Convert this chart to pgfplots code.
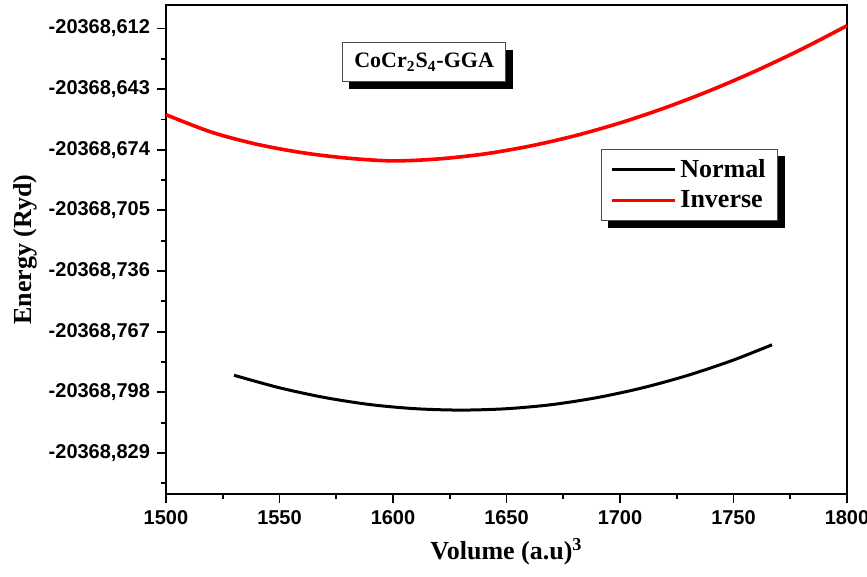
\documentclass[border=0pt]{standalone}
\usepackage{fontspec}
\setmainfont{Liberation Serif}
\setsansfont{Liberation Sans}
\usepackage{pgfplots}
\pgfplotsset{compat=1.18}
\usetikzlibrary{shadows}
\pgfdeclarelayer{background}
\pgfsetlayers{background,main}

% energies stored as E + 20368 (Ryd), labels carry the full value
\begin{document}
\begin{tikzpicture}
\begin{axis}[
    name=ax,
    scale only axis,
    width=340.5pt,
    height=244.5pt,
    xmin=1500, xmax=1800,
    ymin=-0.850, ymax=-0.600,
    axis line style={line width=0.9pt},
    tick style={line width=0.9pt, black},
    tick align=outside,
    xtick pos=bottom,
    ytick pos=left,
    major tick length=4.5pt,
    minor tick length=2.5pt,
    xtick={1500,1550,1600,1650,1700,1750,1800},
    xticklabels={1500,1550,1600,1650,1700,1750,1800},
    minor xtick={1525,1575,1625,1675,1725,1775},
    ytick={-0.829,-0.798,-0.767,-0.736,-0.705,-0.674,-0.643,-0.612},
    yticklabels={{-20368,829},{-20368,798},{-20368,767},{-20368,736},
                 {-20368,705},{-20368,674},{-20368,643},{-20368,612}},
    minor ytick={-0.8445,-0.8135,-0.7825,-0.7515,-0.7205,-0.6895,-0.6585,-0.6275},
    /pgf/number format/assume math mode=true,
    ticklabel style={font=\sffamily\bfseries\fontsize{10}{12}\selectfont},
    xlabel={\textbf{Volume (a.u)}\textsuperscript{\textbf{3}}},
    ylabel={\textbf{Energy (Ryd)}},
    label style={font=\fontsize{13}{15}\selectfont},
    xlabel style={at={(axis description cs:0.5,0)}, anchor=center, yshift=-29pt},
    ylabel style={at={(axis description cs:0,0.5)}, anchor=center, yshift=70.5pt},
    legend style={name=leg, at={(rel axis cs:0.769,0.632)}, anchor=center,
        draw=black!70, fill=white, line width=0.6pt,
        font=\bfseries\fontsize{13}{15}\selectfont,
        inner xsep=4pt, inner ysep=3pt, row sep=1pt},
    legend cell align=left,
    legend image code/.code={\draw[#1] (0pt,0pt) -- (31.5pt,0pt);},
]
\addplot[black, line width=1.5pt, smooth] coordinates {
    (1530,-0.7893) (1550,-0.7957) (1570,-0.8007) (1590,-0.8043)
    (1610,-0.8064) (1630,-0.8071) (1650,-0.8064) (1670,-0.8043)
    (1690,-0.8007) (1710,-0.7957) (1730,-0.7893) (1750,-0.7815)
    (1767,-0.7737)
};
\addlegendentry{Normal}
\addplot[red, line width=1.8pt, smooth] coordinates {
    (1500,-0.6561) (1520,-0.6650) (1540,-0.6712) (1560,-0.6755)
    (1580,-0.6783) (1600,-0.6797) (1620,-0.6787) (1640,-0.6762)
    (1660,-0.6722) (1680,-0.6669) (1700,-0.6603) (1720,-0.6525)
    (1740,-0.6436) (1760,-0.6336) (1780,-0.6226) (1800,-0.6106)
};
\addlegendentry{Inverse}
\node[draw=black!70, fill=white, line width=0.6pt,
      drop shadow={shadow xshift=3.5pt, shadow yshift=-3.5pt, fill=black, opacity=1},
      minimum width=81.7pt, minimum height=19.5pt, inner sep=2pt,
      font=\bfseries\fontsize{11}{13}\selectfont]
    at (rel axis cs:0.379,0.883) {CoCr\textsubscript{2}S\textsubscript{4}-GGA};
\end{axis}
\begin{pgfonlayer}{background}
\fill[black] ([xshift=3.5pt,yshift=-3.5pt]leg.south west)
    rectangle ([xshift=3.5pt,yshift=-3.5pt]leg.north east);
\end{pgfonlayer}
\pgfresetboundingbox
\path[use as bounding box] ([xshift=-83pt,yshift=-41.5pt]ax.south west)
    rectangle ([xshift=10pt,yshift=2.5pt]ax.north east);
\end{tikzpicture}
\end{document}
